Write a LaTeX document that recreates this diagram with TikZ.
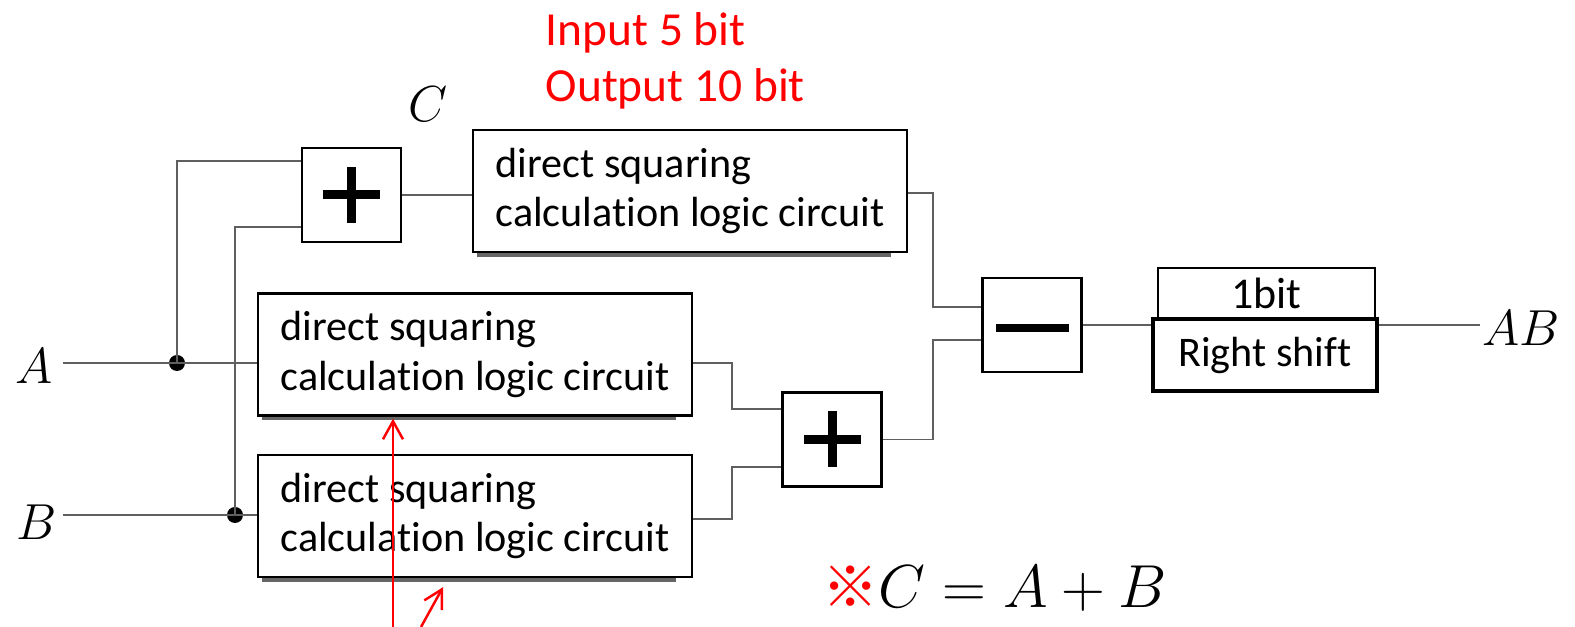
\documentclass[tikz,border=0pt]{standalone}
\usepackage{fontspec}
\setmainfont{Carlito}[Ligatures=NoCommon]
\newfontfamily\cjkfont{Noto Sans CJK JP}
\usetikzlibrary{arrows.meta, positioning, calc}
\definecolor{wire}{RGB}{95,95,95}
\definecolor{note}{RGB}{255,0,0}

\begin{document}
\begin{tikzpicture}[
    sqbox/.style={draw, line width=0.7pt, fill=white, minimum width=4.34cm, minimum height=1.22cm,
                  inner xsep=0.2cm, align=left, font=\fontsize{12}{14.2}\selectfont},
    opbox/.style={draw, line width=0.7pt, fill=white, minimum width=0.99cm, minimum height=0.94cm},
    plusop/.style={opbox, path picture={
        \fill[black] ([xshift=-0.285cm,yshift=-0.045cm]path picture bounding box.center) rectangle ++(0.57,0.09);
        \fill[black] ([xshift=-0.045cm,yshift=-0.28cm]path picture bounding box.center) rectangle ++(0.09,0.56);}},
    minusop/.style={opbox, path picture={
        \fill[black] ([xshift=-0.365cm,yshift=-0.07cm]path picture bounding box.center) rectangle ++(0.73,0.08);}},
    wire/.style={draw=wire, line width=0.5pt},
    jdot/.style={circle, fill=black, inner sep=0pt, minimum size=0.16cm},
    var/.style={inner sep=0pt, font=\fontsize{15.5}{18}\selectfont},
    remark/.style={-{Straight Barb[length=0.18cm, width=0.2cm]}, note, line width=0.7pt}
]
    \useasboundingbox (0,0) rectangle (15.75,-6.27);

    % Bit-width note
    \node[anchor=base west, align=left, inner sep=0pt, text=note,
          font=\fontsize{13.5}{16.2}\selectfont] (width) at (5.45,-1.02) {Input 5 bit\\Output 10 bit};

    % Inputs
    \node[var] (A) at (0.34,-3.66) {$A$};
    \node[var] (B) at (0.37,-5.22) {$B$};
    \node[var] (C) at (4.28,-1.04) {$C$};
    \coordinate (ain) at (0.63,-3.63);
    \coordinate (bin) at (0.63,-5.15);

    % Blocks
    \node[plusop] (plusA) at (3.515,-1.95) {};
    \node[sqbox] (sqC) at (6.90,-1.91) {direct squaring\\calculation logic circuit};
    \node[sqbox] (sqA) at (4.75,-3.545) {direct squaring\\calculation logic circuit};
    \node[sqbox] (sqB) at (4.75,-5.16) {direct squaring\\calculation logic circuit};
    \node[plusop] (plusB) at (8.32,-4.395) {};
    \node[minusop] (minus) at (10.32,-3.25) {};
    \node[draw, line width=0.6pt, fill=white, minimum width=2.17cm, minimum height=0.51cm, inner sep=0pt,
          font=\fontsize{12.5}{13}\selectfont] (bit) at (12.665,-2.935) {1bit};
    \node[draw, line width=0.9pt, fill=white, minimum width=2.24cm, minimum height=0.72cm, inner sep=0pt,
          font=\fontsize{12}{14}\selectfont] (shift) at (12.65,-3.55) {Right shift};
    \node[var] (AB) at (15.21,-3.28) {$AB$};
    \coordinate (outp) at (14.80,-3.25);

    % Shadows
    \foreach \b in {sqC, sqA, sqB}
        \fill[black!60] ([xshift=0.05cm]\b.south west) rectangle ([xshift=-0.17cm,yshift=-0.035cm]\b.south east);

    % Wires
    \node[jdot] (ja) at (1.77,-3.63) {};
    \node[jdot] (jb) at (2.35,-5.15) {};
    \draw[wire] (ain) -- (sqA.west |- ain);
    \draw[wire] (bin) -- (sqB.west |- bin);
    \draw[wire] (ja.center) |- ([yshift=0.34cm]plusA.west);
    \draw[wire] (jb.center) |- ([yshift=-0.32cm]plusA.west);
    \draw[wire] (plusA.east) -- (plusA.east -| sqC.west);
    \draw[wire] ([yshift=-0.02cm]sqC.east) -- ++(0.25,0) |- ([yshift=0.18cm]minus.west);
    \draw[wire] ([yshift=-0.085cm]sqA.east) -- ++(0.39,0) |- ([yshift=0.305cm]plusB.west);
    \draw[wire] ([yshift=-0.03cm]sqB.east) -- ++(0.39,0) |- ([yshift=-0.275cm]plusB.west);
    \draw[wire] (plusB.east) -- ++(0.50,0) |- ([yshift=-0.15cm]minus.west);
    \draw[wire] (minus.east) -- (minus.east -| shift.west);
    \draw[wire] (minus.east -| shift.east) -- (outp);

    % Remark
    \node[inner sep=0pt, anchor=west, font=\fontsize{17}{20}\selectfont] (eq) at (8.22,-5.89)
        {\textcolor{note}{\cjkfont\fontsize{16}{16}\selectfont ※}$C = A + B$};

    % Red arrows
    \coordinate (r1) at (3.93,-6.27);
    \coordinate (r2) at (4.21,-6.27);
    \draw[remark] (r1) -- ([yshift=-0.02cm]r1 |- sqA.south);
    \draw[remark] (r2) -- ($(sqB.south)+(-0.32,-0.09)$);
\end{tikzpicture}
\end{document}
